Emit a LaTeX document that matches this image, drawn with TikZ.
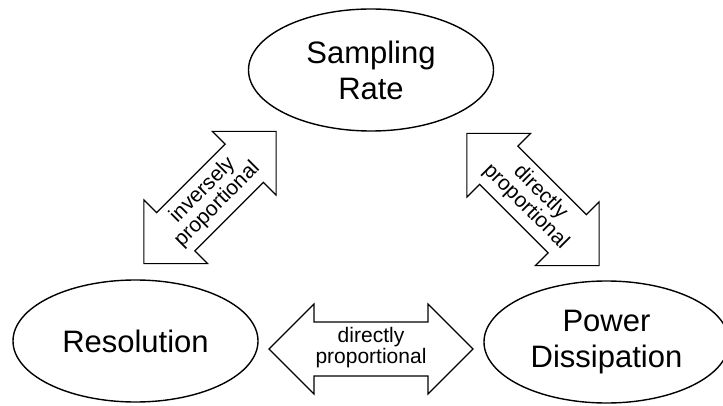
\documentclass[tikz,border=0pt]{standalone}
\usepackage{fontspec}
\setmainfont{Liberation Sans}
\usetikzlibrary{shapes.geometric}
\tikzset{
  oval/.style={ellipse, draw, line width=1.4pt, minimum width=245pt, minimum height=122pt,
    inner sep=0pt, align=center, font=\fontsize{31}{36}\selectfont},
  dblarrow/.style={draw, line width=1.2pt, fill=white, line join=miter},
  arrowtext/.style={align=center, inner sep=0pt, font=\fontsize{21}{19.5}\selectfont},
  pics/darrow/.style={code={
    \draw[dblarrow] (-#1,0) -- ({-#1+45},-45) -- ({-#1+45},-27) -- ({#1-45},-27)
      -- ({#1-45},-45) -- (#1,0) -- ({#1-45},45) -- ({#1-45},27) -- ({-#1+45},27)
      -- ({-#1+45},45) -- cycle;
  }}
}
\begin{document}
\begin{tikzpicture}[x=1pt,y=-1pt]
\useasboundingbox (0,0) rectangle (723,406);
\clip (0,0) rectangle (723,406);
\node[oval] (sr) at (371,70) {Sampling\\Rate};
\node[oval] (res) at (135.5,341) {Resolution};
\node[oval] (pd) at (606.5,342) {Power\\Dissipation};

\pic[rotate=45] (a1) at (210,197.5) {darrow=93.5};
\pic[rotate=-45] (a2) at (533,199.5) {darrow=93.5};
\pic (a3) at (371,349) {darrow=102};

\node[arrowtext, rotate=45] (t1) at (210,197.5) {inversely\\proportional};
\node[arrowtext, rotate=-45] (t2) at (533,199.5) {directly\\proportional};
\node[arrowtext] (t3) at (371,347.5) {directly\\proportional};
\end{tikzpicture}
\end{document}
